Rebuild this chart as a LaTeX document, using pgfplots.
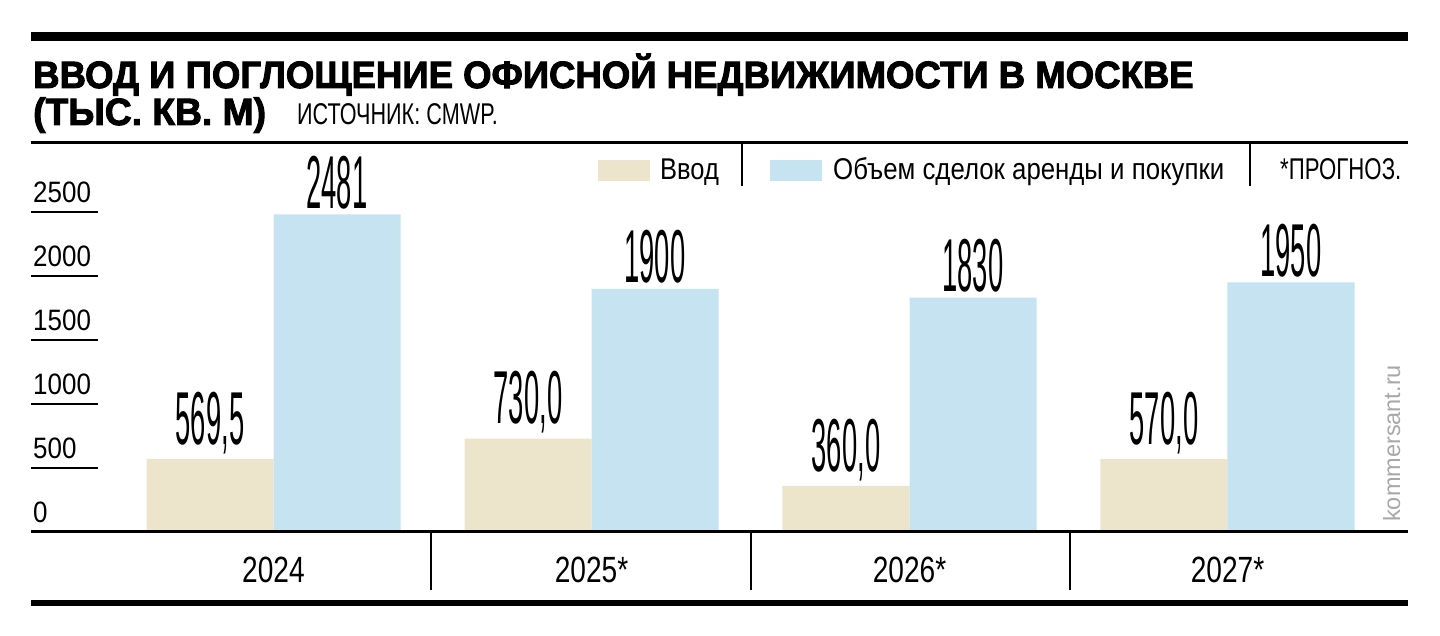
\documentclass[border=0pt]{standalone}
\usepackage{pgfplots}
\pgfplotsset{compat=1.18}
\usepackage{fontspec}
\setmainfont{Liberation Sans}
\newfontfamily\heavy[FakeBold=2.5]{Liberation Sans Bold}

\definecolor{vvod}{HTML}{EDE5CB}
\definecolor{deal}{HTML}{C5E3F0}
\definecolor{kgray}{HTML}{A8A8A8}

\newcommand\sz[1]{\fontsize{#1}{#1}\selectfont}
\newcommand\hs[2]{\scalebox{#1}[1]{#2}}

\pgfplotstableread{
x y lab
0 569.5 569,5
1 730.0 730,0
2 360.0 360,0
3 570.0 570,0
}\vvodtab
\pgfplotstableread{
x y lab
0 2481 2481
1 1900 1900
2 1830 1830
3 1950 1950
}\dealtab

\begin{document}
\begin{tikzpicture}[x=1pt,y=1pt]
\useasboundingbox (0,0) rectangle (1440,636);

% header
\draw[line width=9pt] (31,599.5) -- (1408,599.5);
\node[anchor=base west,inner sep=0] at (33,548)
  {\heavy\sz{38}\hs{0.962}{ВВОД И ПОГЛОЩЕНИЕ ОФИСНОЙ НЕДВИЖИМОСТИ В МОСКВЕ}};
\node[anchor=base west,inner sep=0] at (33,511)
  {\heavy\sz{38}\hs{0.98}{(ТЫС. КВ. М)}};
\node[anchor=base west,inner sep=0] at (297,511)
  {\sz{30}\hs{0.72}{ИСТОЧНИК: CMWP.}};
\draw[line width=3pt] (31,493) -- (1408,493);

% legend
\fill[vvod] (598,455) rectangle (650,476);
\node[anchor=base west,inner sep=0] at (660,456) {\sz{30}\hs{0.85}{Ввод}};
\draw[line width=1.5pt] (742,493) -- (742,450);
\fill[deal] (770,455) rectangle (822,476);
\node[anchor=base west,inner sep=0] at (833,456)
  {\sz{30}\hs{0.86}{Объем сделок аренды и покупки}};
\draw[line width=1.5pt] (1250,493) -- (1250,450);
\node[anchor=base west,inner sep=0] at (1280,456) {\sz{30}\hs{0.74}{*ПРОГНОЗ.}};

% y scale
\foreach \v/\y in {500/168,1000/232,1500/296,2000/360,2500/424}{
  \draw[line width=2pt] (31,\y) -- (98,\y);
  \node[anchor=base west,inner sep=0] at (33,\y+9) {\sz{29.5}\hs{0.88}{\v}};
}
\node[anchor=base west,inner sep=0] at (33,113) {\sz{29.5}\hs{0.88}{0}};

\begin{axis}[
  at={(31pt,104pt)}, anchor=south west,
  scale only axis, width=1377pt, height=389pt,
  xmin=-0.7626, xmax=3.5676, ymin=0, ymax=3039,
  hide axis, clip=false,
  ybar=0pt, bar width=127pt,
  point meta=explicit symbolic,
  nodes near coords={\sz{75}\hs{0.365}{\pgfplotspointmeta}},
  nodes near coords style={anchor=south,inner sep=0pt,yshift=5pt},
]
\addplot[fill=vvod,draw=none] table[x=x,y=y,meta=lab] {\vvodtab};
\addplot[fill=deal,draw=none] table[x=x,y=y,meta=lab] {\dealtab};
\end{axis}

% footer
\draw[line width=3pt] (31,104) -- (1408,104);
\foreach \xs in {431,751,1070}{
  \draw[line width=1.5pt] (\xs,104) -- (\xs,46);
}
\foreach \xc/\t in {273.5/2024,591.5/2025*,909.5/2026*,1227.5/2027*}{
  \node[anchor=base,inner sep=0] at (\xc,53) {\sz{36.5}\hs{0.77}{\t}};
}
\draw[line width=6pt] (31,33) -- (1408,33);

\node[anchor=base west,inner sep=0,rotate=90,text=kgray] at (1400,114)
  {\sz{23.5}kommersant.ru};
\end{tikzpicture}
\end{document}
